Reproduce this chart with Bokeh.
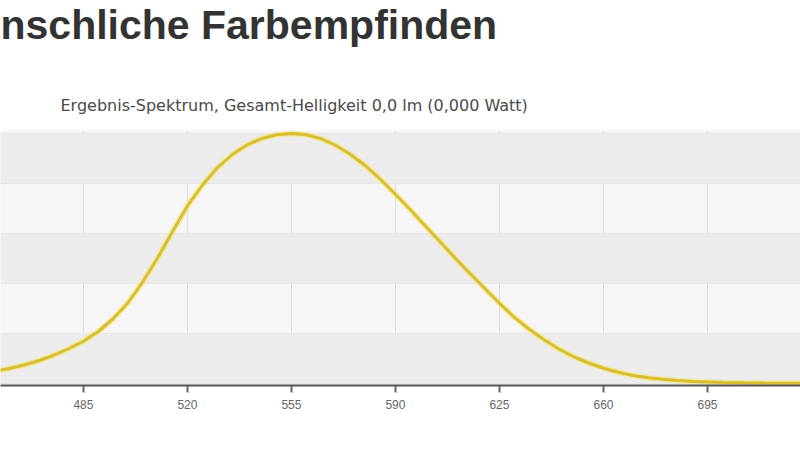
from bokeh.plotting import figure
from bokeh.models import Range1d, FixedTicker, Title, ColumnDataSource
from bokeh.embed import file_html
from bokeh.resources import INLINE

# Data (relative spectral sensitivity vs wavelength, nm)
wavelength = [455, 460, 465, 470, 475, 480, 485, 490, 495, 500, 505, 510, 515, 520,
              525, 530, 535, 540, 545, 550, 555, 560, 565, 570, 575, 580, 585, 590,
              595, 600, 605, 610, 615, 620, 625, 630, 635, 640, 645, 650, 655, 660,
              665, 670, 675, 680, 685, 690, 695, 700, 705, 710, 715, 720, 725, 730]
sensitivity = [0.048, 0.060, 0.074, 0.091, 0.113, 0.139, 0.169, 0.208, 0.259, 0.323,
               0.407, 0.503, 0.608, 0.710, 0.793, 0.862, 0.915, 0.954, 0.980, 0.995,
               1.000, 0.995, 0.979, 0.952, 0.915, 0.870, 0.816, 0.757, 0.695, 0.631,
               0.567, 0.503, 0.441, 0.381, 0.321, 0.265, 0.217, 0.175, 0.138, 0.107,
               0.082, 0.061, 0.045, 0.032, 0.023, 0.017, 0.012, 0.008, 0.006, 0.004,
               0.003, 0.002, 0.0015, 0.001, 0.0007, 0.0005]
x_ticks = [450, 485, 520, 555, 590, 625, 660, 695, 730]
y_ticks = [0.0, 0.2, 0.4, 0.6, 0.8, 1.0]

title_text = "nschliche Farbempfinden"
subtitle_text = "Ergebnis-Spektrum, Gesamt-Helligkeit 0,0 lm (0,000 Watt)"

src = ColumnDataSource(data=dict(x=wavelength, y=sensitivity))

p = figure(width=800, height=452, output_backend="svg", toolbar_location=None,
           x_range=Range1d(457.1, 726.3), y_range=Range1d(-0.008, 1.012),
           y_axis_location=None,
           min_border_left=0, min_border_right=0, min_border_top=132, min_border_bottom=65)
p.styles = {"margin-top": "-2px"}
p.title.text = ""
p.outline_line_color = None
p.background_fill_color = "#f6f6f6"
p.border_fill_color = "white"

p.ygrid.ticker = FixedTicker(ticks=y_ticks)
p.ygrid.grid_line_color = "#e6e6e6"
p.ygrid.grid_line_width = 1
p.ygrid.band_fill_color = "#ececec"
p.ygrid.band_fill_alpha = 1.0

p.xgrid.ticker = FixedTicker(ticks=x_ticks)
p.xgrid.grid_line_color = "#dcdcdc"
p.xgrid.grid_line_width = 1

p.xaxis.ticker = FixedTicker(ticks=x_ticks)
p.xaxis.axis_line_color = "#555555"
p.xaxis.axis_line_width = 2
p.xaxis.major_tick_line_color = "#666666"
p.xaxis.major_tick_line_width = 2
p.xaxis.major_tick_out = 7
p.xaxis.major_tick_in = 0
p.xaxis.minor_tick_line_color = None
p.xaxis.major_label_text_font = "Liberation Sans"
p.xaxis.major_label_text_font_size = "12px"
p.xaxis.major_label_text_color = "#666666"
p.xaxis.major_label_standoff = 7

p.line("x", "y", source=src, line_color="#f3e77a", line_width=6, line_alpha=0.6)
p.line("x", "y", source=src, line_color="#d9be2f", line_width=3)

sub_title = Title(text=subtitle_text, text_font="DejaVu Sans", text_font_style="normal",
                  text_font_size="16px", text_color="#4a4a4a", align="left",
                  offset=60, standoff=32)
main_title = Title(text=title_text, text_font="Liberation Sans", text_font_style="bold",
                   text_font_size="41px", text_color="#333333", align="left",
                   offset=0, standoff=0,
                   padding=dict(left=0, right=0, top=0, bottom=30))
p.add_layout(sub_title, "above")
p.add_layout(main_title, "above")

open("out.html", "w").write(file_html(p, INLINE))
